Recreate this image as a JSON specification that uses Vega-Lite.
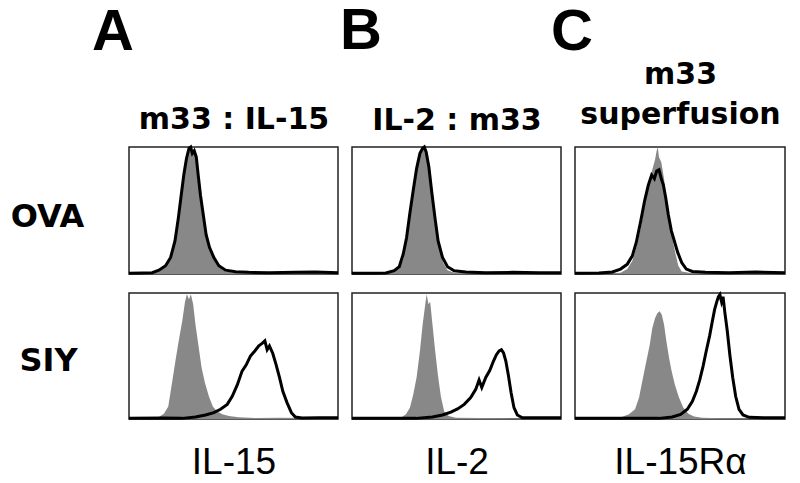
{
  "$schema": "https://vega.github.io/schema/vega-lite/v6.json",
  "background": "white",
  "padding": {"left": 9, "top": 2, "right": 0, "bottom": 0},
  "config": {
    "axis": {"labels": false, "ticks": false, "domain": false, "grid": false, "titleColor": "#000"},
    "view": {"stroke": "#222", "strokeWidth": 1.5},
    "title": {"color": "#000", "font": "Liberation Sans", "fontWeight": "bold", "fontSize": 58, "anchor": "start", "frame": "group", "baseline": "alphabetic"}
  },
  "datasets": {
    "h": [
      {"p":"A1","s":"g","x":0,"y":0},{"p":"A1","s":"g","x":9.6,"y":0.5},{"p":"A1","s":"g","x":12.7,"y":1.3},{"p":"A1","s":"g","x":15.9,"y":3.9},{"p":"A1","s":"g","x":18.3,"y":9},{"p":"A1","s":"g","x":20.7,"y":17},{"p":"A1","s":"g","x":22.3,"y":31},{"p":"A1","s":"g","x":23.9,"y":52},{"p":"A1","s":"g","x":25.2,"y":65},{"p":"A1","s":"g","x":26.3,"y":78},{"p":"A1","s":"g","x":27.4,"y":88},{"p":"A1","s":"g","x":28.7,"y":96},{"p":"A1","s":"g","x":29.6,"y":99},{"p":"A1","s":"g","x":30.6,"y":97},{"p":"A1","s":"g","x":31.5,"y":99},{"p":"A1","s":"g","x":32.5,"y":88},{"p":"A1","s":"g","x":33.4,"y":75},{"p":"A1","s":"g","x":34.6,"y":60},{"p":"A1","s":"g","x":35.8,"y":44},{"p":"A1","s":"g","x":37.4,"y":30},{"p":"A1","s":"g","x":39,"y":19.5},{"p":"A1","s":"g","x":40.9,"y":11.7},{"p":"A1","s":"g","x":43,"y":5.7},{"p":"A1","s":"g","x":46.2,"y":2},{"p":"A1","s":"g","x":51,"y":1},{"p":"A1","s":"g","x":60.5,"y":0.5},{"p":"A1","s":"g","x":71.7,"y":0.8},{"p":"A1","s":"g","x":86,"y":0.5},{"p":"A1","s":"g","x":100,"y":0.3},
      {"p":"A1","s":"k","x":0,"y":0.5},{"p":"A1","s":"k","x":6.4,"y":0.8},{"p":"A1","s":"k","x":11.1,"y":1},{"p":"A1","s":"k","x":14.3,"y":3},{"p":"A1","s":"k","x":17.5,"y":6.5},{"p":"A1","s":"k","x":19.9,"y":13},{"p":"A1","s":"k","x":22,"y":26},{"p":"A1","s":"k","x":23.6,"y":44},{"p":"A1","s":"k","x":25.2,"y":65},{"p":"A1","s":"k","x":26.3,"y":79},{"p":"A1","s":"k","x":27.5,"y":91},{"p":"A1","s":"k","x":28.7,"y":99},{"p":"A1","s":"k","x":29.5,"y":100},{"p":"A1","s":"k","x":30.3,"y":95},{"p":"A1","s":"k","x":31.2,"y":97},{"p":"A1","s":"k","x":32.2,"y":92},{"p":"A1","s":"k","x":33.1,"y":78},{"p":"A1","s":"k","x":34.2,"y":62},{"p":"A1","s":"k","x":35.5,"y":47},{"p":"A1","s":"k","x":36.9,"y":31},{"p":"A1","s":"k","x":38.5,"y":21},{"p":"A1","s":"k","x":40.6,"y":13},{"p":"A1","s":"k","x":43,"y":6.5},{"p":"A1","s":"k","x":46.2,"y":3},{"p":"A1","s":"k","x":51,"y":1.8},{"p":"A1","s":"k","x":57.3,"y":1.3},{"p":"A1","s":"k","x":66.9,"y":1},{"p":"A1","s":"k","x":79.6,"y":1.3},{"p":"A1","s":"k","x":89.2,"y":1.5},{"p":"A1","s":"k","x":100,"y":1},
      {"p":"A2","s":"g","x":0,"y":0},{"p":"A2","s":"g","x":9.6,"y":0.5},{"p":"A2","s":"g","x":14.3,"y":1.6},{"p":"A2","s":"g","x":16.7,"y":4.2},{"p":"A2","s":"g","x":18.8,"y":10},{"p":"A2","s":"g","x":20.7,"y":30},{"p":"A2","s":"g","x":22.3,"y":47},{"p":"A2","s":"g","x":23.9,"y":63},{"p":"A2","s":"g","x":25.5,"y":78},{"p":"A2","s":"g","x":26.8,"y":93},{"p":"A2","s":"g","x":27.7,"y":99},{"p":"A2","s":"g","x":28.7,"y":95},{"p":"A2","s":"g","x":29.6,"y":99},{"p":"A2","s":"g","x":30.7,"y":91},{"p":"A2","s":"g","x":31.8,"y":75},{"p":"A2","s":"g","x":33.1,"y":60},{"p":"A2","s":"g","x":34.7,"y":41},{"p":"A2","s":"g","x":36.3,"y":29},{"p":"A2","s":"g","x":38.2,"y":18},{"p":"A2","s":"g","x":40.1,"y":10},{"p":"A2","s":"g","x":42.2,"y":6},{"p":"A2","s":"g","x":44.6,"y":3.7},{"p":"A2","s":"g","x":47.8,"y":2.4},{"p":"A2","s":"g","x":52.5,"y":1.3},{"p":"A2","s":"g","x":60.5,"y":0.8},{"p":"A2","s":"g","x":71.7,"y":1},{"p":"A2","s":"g","x":86,"y":0.8},{"p":"A2","s":"g","x":100,"y":0.5},
      {"p":"A2","s":"k","x":0,"y":0.5},{"p":"A2","s":"k","x":15.9,"y":0.8},{"p":"A2","s":"k","x":25.5,"y":0.5},{"p":"A2","s":"k","x":31.8,"y":1.6},{"p":"A2","s":"k","x":36.6,"y":3.2},{"p":"A2","s":"k","x":40.6,"y":5},{"p":"A2","s":"k","x":43.8,"y":7.7},{"p":"A2","s":"k","x":47,"y":11.6},{"p":"A2","s":"k","x":49.4,"y":18},{"p":"A2","s":"k","x":51.8,"y":27},{"p":"A2","s":"k","x":54.1,"y":38},{"p":"A2","s":"k","x":56.1,"y":43},{"p":"A2","s":"k","x":58.1,"y":50},{"p":"A2","s":"k","x":60.2,"y":54},{"p":"A2","s":"k","x":62.1,"y":58},{"p":"A2","s":"k","x":63.7,"y":60},{"p":"A2","s":"k","x":65,"y":62},{"p":"A2","s":"k","x":66.1,"y":55},{"p":"A2","s":"k","x":67.2,"y":58},{"p":"A2","s":"k","x":68.8,"y":52},{"p":"A2","s":"k","x":70.4,"y":43},{"p":"A2","s":"k","x":72,"y":33},{"p":"A2","s":"k","x":73.6,"y":22},{"p":"A2","s":"k","x":75.6,"y":13},{"p":"A2","s":"k","x":77.7,"y":5},{"p":"A2","s":"k","x":79.6,"y":1.6},{"p":"A2","s":"k","x":82.8,"y":0.8},{"p":"A2","s":"k","x":90.8,"y":1},{"p":"A2","s":"k","x":100,"y":1},
      {"p":"B1","s":"g","x":0,"y":0},{"p":"B1","s":"g","x":13,"y":0.3},{"p":"B1","s":"g","x":19.4,"y":1.6},{"p":"B1","s":"g","x":22.6,"y":3.9},{"p":"B1","s":"g","x":24.5,"y":11.7},{"p":"B1","s":"g","x":26.1,"y":26},{"p":"B1","s":"g","x":27.7,"y":47},{"p":"B1","s":"g","x":29.3,"y":65},{"p":"B1","s":"g","x":30.9,"y":82},{"p":"B1","s":"g","x":32.5,"y":93.5},{"p":"B1","s":"g","x":33.8,"y":98},{"p":"B1","s":"g","x":34.7,"y":99},{"p":"B1","s":"g","x":35.7,"y":92},{"p":"B1","s":"g","x":37,"y":78},{"p":"B1","s":"g","x":38.5,"y":56},{"p":"B1","s":"g","x":40.1,"y":36},{"p":"B1","s":"g","x":41.7,"y":21},{"p":"B1","s":"g","x":43.6,"y":9},{"p":"B1","s":"g","x":45.7,"y":3},{"p":"B1","s":"g","x":48.9,"y":1},{"p":"B1","s":"g","x":57.6,"y":0.5},{"p":"B1","s":"g","x":100,"y":0.3},
      {"p":"B1","s":"k","x":0,"y":0.5},{"p":"B1","s":"k","x":9.9,"y":0.5},{"p":"B1","s":"k","x":16.2,"y":0.8},{"p":"B1","s":"k","x":20.2,"y":2.6},{"p":"B1","s":"k","x":22.6,"y":5.7},{"p":"B1","s":"k","x":24.5,"y":15.6},{"p":"B1","s":"k","x":26.1,"y":28.6},{"p":"B1","s":"k","x":27.7,"y":48},{"p":"B1","s":"k","x":29.3,"y":66},{"p":"B1","s":"k","x":30.9,"y":83},{"p":"B1","s":"k","x":32.5,"y":95},{"p":"B1","s":"k","x":33.8,"y":99},{"p":"B1","s":"k","x":34.6,"y":100},{"p":"B1","s":"k","x":35.5,"y":96},{"p":"B1","s":"k","x":36.8,"y":84},{"p":"B1","s":"k","x":38.2,"y":64},{"p":"B1","s":"k","x":39.8,"y":43},{"p":"B1","s":"k","x":41.2,"y":26},{"p":"B1","s":"k","x":43.3,"y":13},{"p":"B1","s":"k","x":45.7,"y":5.7},{"p":"B1","s":"k","x":48.9,"y":2.6},{"p":"B1","s":"k","x":54.5,"y":1.6},{"p":"B1","s":"k","x":64,"y":1},{"p":"B1","s":"k","x":76.8,"y":1.3},{"p":"B1","s":"k","x":89.5,"y":1},{"p":"B1","s":"k","x":100,"y":1},
      {"p":"B2","s":"g","x":0,"y":0},{"p":"B2","s":"g","x":17.8,"y":0.5},{"p":"B2","s":"g","x":23.4,"y":1},{"p":"B2","s":"g","x":25.8,"y":3.7},{"p":"B2","s":"g","x":27.7,"y":9},{"p":"B2","s":"g","x":29.3,"y":19.5},{"p":"B2","s":"g","x":30.9,"y":33},{"p":"B2","s":"g","x":32.5,"y":54},{"p":"B2","s":"g","x":33.8,"y":75},{"p":"B2","s":"g","x":34.9,"y":89},{"p":"B2","s":"g","x":35.7,"y":99},{"p":"B2","s":"g","x":36.6,"y":91},{"p":"B2","s":"g","x":37.4,"y":93},{"p":"B2","s":"g","x":38.5,"y":75},{"p":"B2","s":"g","x":39.8,"y":54},{"p":"B2","s":"g","x":41.1,"y":35},{"p":"B2","s":"g","x":42.5,"y":18},{"p":"B2","s":"g","x":44.1,"y":6},{"p":"B2","s":"g","x":46.2,"y":2.4},{"p":"B2","s":"g","x":49.7,"y":1},{"p":"B2","s":"g","x":60.8,"y":0.8},{"p":"B2","s":"g","x":73.6,"y":0.5},{"p":"B2","s":"g","x":100,"y":0.3},
      {"p":"B2","s":"k","x":0,"y":0.5},{"p":"B2","s":"k","x":17.8,"y":0.5},{"p":"B2","s":"k","x":30.6,"y":0.5},{"p":"B2","s":"k","x":38.5,"y":1.6},{"p":"B2","s":"k","x":43.3,"y":3.2},{"p":"B2","s":"k","x":47.3,"y":5.5},{"p":"B2","s":"k","x":50.5,"y":8},{"p":"B2","s":"k","x":53.7,"y":11.6},{"p":"B2","s":"k","x":56.8,"y":17},{"p":"B2","s":"k","x":59.2,"y":23.5},{"p":"B2","s":"k","x":60.8,"y":31},{"p":"B2","s":"k","x":62.1,"y":25},{"p":"B2","s":"k","x":64,"y":33},{"p":"B2","s":"k","x":65.9,"y":38.5},{"p":"B2","s":"k","x":67.7,"y":46},{"p":"B2","s":"k","x":69.1,"y":51},{"p":"B2","s":"k","x":70.4,"y":54},{"p":"B2","s":"k","x":71.5,"y":55},{"p":"B2","s":"k","x":72.5,"y":52.5},{"p":"B2","s":"k","x":73.6,"y":46},{"p":"B2","s":"k","x":74.8,"y":35},{"p":"B2","s":"k","x":76.1,"y":21},{"p":"B2","s":"k","x":77.5,"y":9},{"p":"B2","s":"k","x":79.1,"y":3.2},{"p":"B2","s":"k","x":81.5,"y":1},{"p":"B2","s":"k","x":89.5,"y":1},{"p":"B2","s":"k","x":100,"y":1},
      {"p":"C1","s":"g","x":0,"y":0},{"p":"C1","s":"g","x":16.2,"y":0.3},{"p":"C1","s":"g","x":21.7,"y":1},{"p":"C1","s":"g","x":24.9,"y":3.9},{"p":"C1","s":"g","x":27.3,"y":10.4},{"p":"C1","s":"g","x":29.2,"y":21},{"p":"C1","s":"g","x":31.3,"y":36},{"p":"C1","s":"g","x":33.3,"y":55},{"p":"C1","s":"g","x":35.2,"y":70},{"p":"C1","s":"g","x":36.8,"y":82},{"p":"C1","s":"g","x":38.1,"y":90},{"p":"C1","s":"g","x":38.9,"y":97},{"p":"C1","s":"g","x":39.4,"y":100},{"p":"C1","s":"g","x":40,"y":92},{"p":"C1","s":"g","x":41.1,"y":88},{"p":"C1","s":"g","x":42.4,"y":75},{"p":"C1","s":"g","x":43.7,"y":57},{"p":"C1","s":"g","x":45.1,"y":39},{"p":"C1","s":"g","x":46.7,"y":25},{"p":"C1","s":"g","x":47.9,"y":15.6},{"p":"C1","s":"g","x":49.2,"y":6.5},{"p":"C1","s":"g","x":50.8,"y":2},{"p":"C1","s":"g","x":54.3,"y":1},{"p":"C1","s":"g","x":63.8,"y":0.5},{"p":"C1","s":"g","x":100,"y":0.3},
      {"p":"C1","s":"k","x":0,"y":0.5},{"p":"C1","s":"k","x":11.4,"y":0.8},{"p":"C1","s":"k","x":17.8,"y":1.6},{"p":"C1","s":"k","x":21.7,"y":3.9},{"p":"C1","s":"k","x":24.9,"y":7.8},{"p":"C1","s":"k","x":27.3,"y":14.3},{"p":"C1","s":"k","x":29.2,"y":25},{"p":"C1","s":"k","x":31.3,"y":41.6},{"p":"C1","s":"k","x":33.2,"y":58},{"p":"C1","s":"k","x":34.9,"y":70},{"p":"C1","s":"k","x":36.5,"y":78},{"p":"C1","s":"k","x":37.8,"y":75},{"p":"C1","s":"k","x":38.9,"y":81},{"p":"C1","s":"k","x":40,"y":82},{"p":"C1","s":"k","x":41.1,"y":75},{"p":"C1","s":"k","x":42.1,"y":70},{"p":"C1","s":"k","x":43.2,"y":60},{"p":"C1","s":"k","x":44.4,"y":47},{"p":"C1","s":"k","x":45.9,"y":34},{"p":"C1","s":"k","x":47.3,"y":26},{"p":"C1","s":"k","x":48.9,"y":17},{"p":"C1","s":"k","x":50.8,"y":9},{"p":"C1","s":"k","x":53,"y":3.9},{"p":"C1","s":"k","x":55.9,"y":2},{"p":"C1","s":"k","x":62.2,"y":1.3},{"p":"C1","s":"k","x":73.3,"y":1},{"p":"C1","s":"k","x":86,"y":1.6},{"p":"C1","s":"k","x":100,"y":1},
      {"p":"C2","s":"g","x":0,"y":0},{"p":"C2","s":"g","x":16.2,"y":0.3},{"p":"C2","s":"g","x":21.3,"y":1},{"p":"C2","s":"g","x":25.7,"y":3.7},{"p":"C2","s":"g","x":28.6,"y":7.7},{"p":"C2","s":"g","x":30.5,"y":17},{"p":"C2","s":"g","x":32.4,"y":33},{"p":"C2","s":"g","x":34,"y":46},{"p":"C2","s":"g","x":35.6,"y":59},{"p":"C2","s":"g","x":36.8,"y":72},{"p":"C2","s":"g","x":38.1,"y":80},{"p":"C2","s":"g","x":39.2,"y":84},{"p":"C2","s":"g","x":40.3,"y":85.5},{"p":"C2","s":"g","x":41.3,"y":83},{"p":"C2","s":"g","x":42.4,"y":75},{"p":"C2","s":"g","x":43.5,"y":62},{"p":"C2","s":"g","x":44.8,"y":48.5},{"p":"C2","s":"g","x":46,"y":38},{"p":"C2","s":"g","x":47.6,"y":27},{"p":"C2","s":"g","x":49.5,"y":17},{"p":"C2","s":"g","x":51.6,"y":9},{"p":"C2","s":"g","x":54,"y":4.2},{"p":"C2","s":"g","x":56.7,"y":2},{"p":"C2","s":"g","x":60.6,"y":1},{"p":"C2","s":"g","x":70.2,"y":0.5},{"p":"C2","s":"g","x":100,"y":0.3},
      {"p":"C2","s":"k","x":0,"y":0.5},{"p":"C2","s":"k","x":27.3,"y":0.5},{"p":"C2","s":"k","x":40,"y":0.5},{"p":"C2","s":"k","x":46.3,"y":1.6},{"p":"C2","s":"k","x":50.3,"y":3.7},{"p":"C2","s":"k","x":53.5,"y":7.7},{"p":"C2","s":"k","x":55.9,"y":14},{"p":"C2","s":"k","x":57.8,"y":22},{"p":"C2","s":"k","x":59.4,"y":31},{"p":"C2","s":"k","x":61,"y":42},{"p":"C2","s":"k","x":62.5,"y":54},{"p":"C2","s":"k","x":64.1,"y":66},{"p":"C2","s":"k","x":65.4,"y":77.6},{"p":"C2","s":"k","x":66.5,"y":87},{"p":"C2","s":"k","x":67.5,"y":93},{"p":"C2","s":"k","x":68.3,"y":97},{"p":"C2","s":"k","x":69,"y":98.7},{"p":"C2","s":"k","x":69.8,"y":93},{"p":"C2","s":"k","x":70.5,"y":97},{"p":"C2","s":"k","x":71.4,"y":84},{"p":"C2","s":"k","x":72.5,"y":70},{"p":"C2","s":"k","x":73.8,"y":50},{"p":"C2","s":"k","x":75.1,"y":33},{"p":"C2","s":"k","x":76.5,"y":18},{"p":"C2","s":"k","x":78.1,"y":7.7},{"p":"C2","s":"k","x":80,"y":3.2},{"p":"C2","s":"k","x":82.9,"y":1.3},{"p":"C2","s":"k","x":90.8,"y":1},{"p":"C2","s":"k","x":100,"y":1}
    ]
  },
  "columns": 3,
  "bounds": "flush",
  "spacing": {"row": 19, "column": 14},
  "concat": [
    {
      "width": 209, "height": 127,
      "data": {"name": "h"},
      "transform": [{"filter": "datum.p == 'A1'"}],
      "title": {"text": "A", "dx": -37, "offset": 42},
      "encoding": {
        "x": {"field": "x", "type": "quantitative", "scale": {"domain": [0, 100], "nice": false, "zero": false},
              "axis": {"orient": "top", "title": "m33 : IL-15", "titleFont": "DejaVu Sans", "titleFontWeight": "bold", "titleFontSize": 30, "titleBaseline": "alphabetic", "titlePadding": 19}},
        "y": {"field": "y", "type": "quantitative", "scale": {"domain": [0, 100], "nice": false},
              "axis": {"title": "OVA", "titleAngle": 0, "titleAlign": "center", "titleBaseline": "alphabetic", "titleX": -82, "titleY": 79, "titleFont": "DejaVu Sans", "titleFontWeight": "bold", "titleFontSize": 32}}
      },
      "layer": [
        {"transform": [{"filter": "datum.s == 'g'"}], "mark": {"type": "area", "color": "#888888"}, "encoding": {}},
        {"transform": [{"filter": "datum.s == 'k'"}], "mark": {"type": "line", "color": "#000000", "strokeWidth": 3}, "encoding": {}}
      ]
    },
    {
      "width": 209, "height": 127,
      "data": {"name": "h"},
      "transform": [{"filter": "datum.p == 'B1'"}],
      "title": {"text": "B", "dx": -12, "offset": 44},
      "encoding": {
        "x": {"field": "x", "type": "quantitative", "scale": {"domain": [0, 100], "nice": false, "zero": false},
              "axis": {"orient": "top", "title": "IL-2 : m33", "titleFont": "DejaVu Sans", "titleFontWeight": "bold", "titleFontSize": 30, "titleBaseline": "alphabetic", "titlePadding": 18}},
        "y": {"field": "y", "type": "quantitative", "scale": {"domain": [0, 100], "nice": false}, "axis": null}
      },
      "layer": [
        {"transform": [{"filter": "datum.s == 'g'"}], "mark": {"type": "area", "color": "#888888"}, "encoding": {}},
        {"transform": [{"filter": "datum.s == 'k'"}], "mark": {"type": "line", "color": "#000000", "strokeWidth": 3}, "encoding": {}}
      ]
    },
    {
      "width": 210, "height": 127,
      "data": {"name": "h"},
      "transform": [{"filter": "datum.p == 'C1'"}],
      "title": {"text": "C", "dx": -24, "offset": -3},
      "encoding": {
        "x": {"field": "x", "type": "quantitative", "scale": {"domain": [0, 100], "nice": false, "zero": false},
              "axis": {"orient": "top", "title": ["m33", "superfusion"], "titleFont": "DejaVu Sans", "titleFontWeight": "bold", "titleFontSize": 30, "titleLineHeight": 40, "titleBaseline": "alphabetic", "titlePadding": 24}},
        "y": {"field": "y", "type": "quantitative", "scale": {"domain": [0, 100], "nice": false}, "axis": null}
      },
      "layer": [
        {"transform": [{"filter": "datum.s == 'g'"}], "mark": {"type": "area", "color": "#888888"}, "encoding": {}},
        {"transform": [{"filter": "datum.s == 'k'"}], "mark": {"type": "line", "color": "#000000", "strokeWidth": 3}, "encoding": {}}
      ]
    },
    {
      "width": 209, "height": 126,
      "data": {"name": "h"},
      "transform": [{"filter": "datum.p == 'A2'"}],
      "encoding": {
        "x": {"field": "x", "type": "quantitative", "scale": {"domain": [0, 100], "nice": false, "zero": false},
              "axis": {"orient": "bottom", "title": "IL-15", "titleFont": "Liberation Sans", "titleFontWeight": "normal", "titleFontSize": 37, "titleBaseline": "alphabetic", "titlePadding": 54}},
        "y": {"field": "y", "type": "quantitative", "scale": {"domain": [0, 100], "nice": false},
              "axis": {"title": "SIY", "titleAngle": 0, "titleAlign": "center", "titleBaseline": "alphabetic", "titleX": -81, "titleY": 77, "titleFont": "DejaVu Sans", "titleFontWeight": "bold", "titleFontSize": 32}}
      },
      "layer": [
        {"transform": [{"filter": "datum.s == 'g'"}], "mark": {"type": "area", "color": "#888888"}, "encoding": {}},
        {"transform": [{"filter": "datum.s == 'k'"}], "mark": {"type": "line", "color": "#000000", "strokeWidth": 3}, "encoding": {}}
      ]
    },
    {
      "width": 209, "height": 126,
      "data": {"name": "h"},
      "transform": [{"filter": "datum.p == 'B2'"}],
      "encoding": {
        "x": {"field": "x", "type": "quantitative", "scale": {"domain": [0, 100], "nice": false, "zero": false},
              "axis": {"orient": "bottom", "title": "IL-2", "titleFont": "Liberation Sans", "titleFontWeight": "normal", "titleFontSize": 37, "titleBaseline": "alphabetic", "titlePadding": 54}},
        "y": {"field": "y", "type": "quantitative", "scale": {"domain": [0, 100], "nice": false}, "axis": null}
      },
      "layer": [
        {"transform": [{"filter": "datum.s == 'g'"}], "mark": {"type": "area", "color": "#888888"}, "encoding": {}},
        {"transform": [{"filter": "datum.s == 'k'"}], "mark": {"type": "line", "color": "#000000", "strokeWidth": 3}, "encoding": {}}
      ]
    },
    {
      "width": 210, "height": 126,
      "data": {"name": "h"},
      "transform": [{"filter": "datum.p == 'C2'"}],
      "encoding": {
        "x": {"field": "x", "type": "quantitative", "scale": {"domain": [0, 100], "nice": false, "zero": false},
              "axis": {"orient": "bottom", "title": "IL-15Rα", "titleFont": "Liberation Sans", "titleFontWeight": "normal", "titleFontSize": 37, "titleBaseline": "alphabetic", "titlePadding": 54}},
        "y": {"field": "y", "type": "quantitative", "scale": {"domain": [0, 100], "nice": false}, "axis": null}
      },
      "layer": [
        {"transform": [{"filter": "datum.s == 'g'"}], "mark": {"type": "area", "color": "#888888"}, "encoding": {}},
        {"transform": [{"filter": "datum.s == 'k'"}], "mark": {"type": "line", "color": "#000000", "strokeWidth": 3}, "encoding": {}}
      ]
    }
  ]
}
